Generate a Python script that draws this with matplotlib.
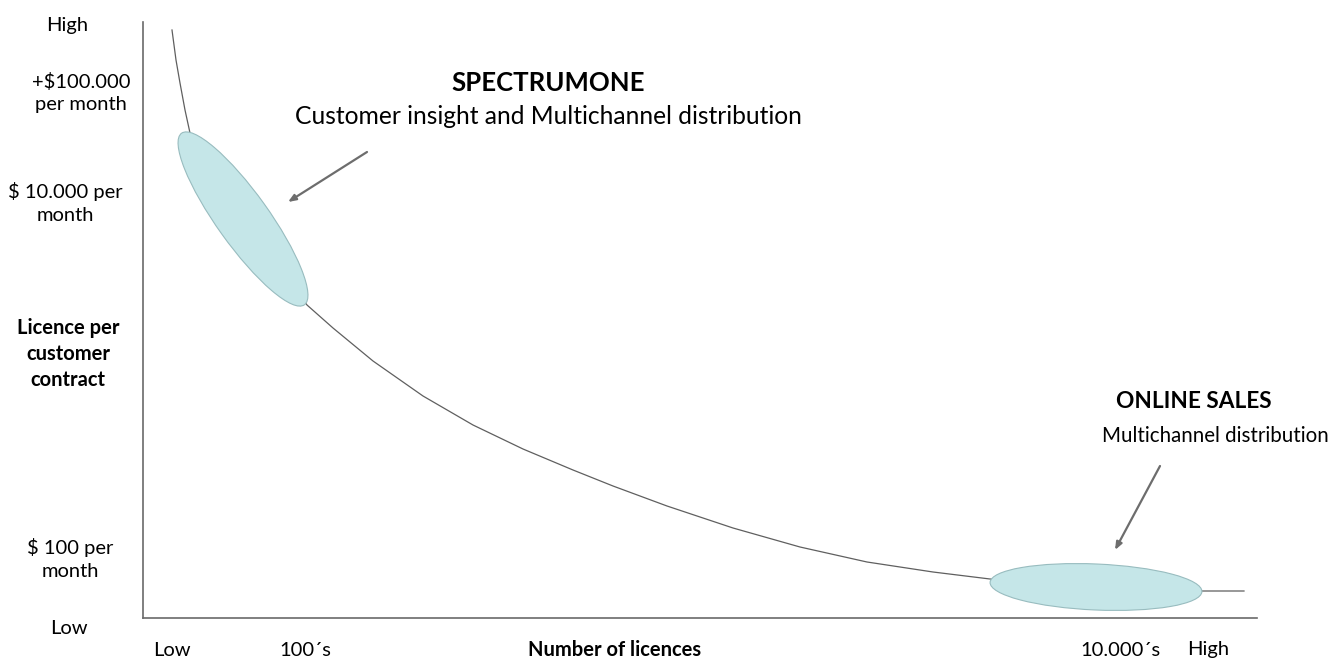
import matplotlib
matplotlib.use("Agg")
import matplotlib.pyplot as plt
from matplotlib.patches import Ellipse

W, H = 1333, 659

# price curve, in axis units (1 unit = 1 px, origin at the axis corner)
curve_x = [29, 33, 37, 42, 47, 102, 164, 190, 230, 280, 330, 380, 430, 470,
           524, 590, 657, 724, 790, 847, 957, 1059, 1101]
curve_y = [588, 558, 535, 508, 485, 398, 313, 290, 257, 222, 193, 169, 148, 132,
           112, 90, 71, 56, 46, 39, 30, 27, 27]

# segments: (centre x, centre y, length, thickness, angle)
segments = [(100, 399, 211, 52, -54.4),
            (953, 31, 212, 46, -2.5)]

# arrows: (tail x, tail y, head x, head y)
arrows = [(224, 466, 145, 416),
          (1017, 152, 972, 68)]

y_labels = ["High", "+$100.000\nper month", "$ 10.000 per\nmonth",
            "Licence per\ncustomer\ncontract", "$ 100 per\nmonth", "Low"]
y_label_pos = [25, 93, 203, 354, 559, 628]
y_label_x = [67, 81, 65, 68, 70, 69]
x_labels = ["Low", "100´s", "Number of licences", "10.000´s", "High"]
x_label_pos = [172, 305, 615, 1120, 1208]
bold_labels = {"Licence per\ncustomer\ncontract", "Number of licences"}

plt.rcParams['font.family'] = ['Lato', 'DejaVu Sans']

fig = plt.figure(figsize=(W / 100, H / 100), dpi=100)
ax = fig.add_axes([143 / W, 41 / H, 1114 / W, 596 / H])
ax.set_xlim(0, 1114)
ax.set_ylim(0, 596)
for s in ["top", "right"]:
    ax.spines[s].set_visible(False)
for s in ["left", "bottom"]:
    ax.spines[s].set_color("#6a6a6a")
    ax.spines[s].set_linewidth(1.2)
ax.set_xticks([])
ax.set_yticks([])

ax.plot(curve_x, curve_y, color="#5f5f5f", lw=0.9, zorder=1)

for cx, cy, w, h, ang in segments:
    ax.add_patch(Ellipse((cx, cy), w, h, angle=ang, facecolor="#c5e6e8",
                         edgecolor="#98bcbf", lw=0.8, zorder=2))

for x0, y0, x1, y1 in arrows:
    ax.annotate("", xy=(x1, y1), xytext=(x0, y0),
                arrowprops=dict(arrowstyle="-|>,head_length=0.45,head_width=0.18",
                                color="#6d6d6d", lw=1.6, shrinkA=0, shrinkB=0))


def ftext(px, py, s, ha="center", **kw):
    fig.text(px / W, 1 - py / H, s, ha=ha, va="center", **kw)


for lab, px, py in zip(y_labels, y_label_x, y_label_pos):
    bold = lab in bold_labels
    ftext(px, py, lab, fontsize=14.5, linespacing=1.4 if bold else 1.4,
          fontweight="bold" if bold else "normal")

for lab, px in zip(x_labels, x_label_pos):
    ftext(px, 650, lab, fontsize=14.5,
          fontweight="bold" if lab in bold_labels else "normal")

ftext(548, 83, "SPECTRUMONE", fontsize=18.5, fontweight="bold")
ftext(548, 117, "Customer insight and Multichannel distribution", fontsize=17.7)
ftext(1194, 402, "ONLINE SALES", fontsize=16.3, fontweight="bold")
ftext(1329, 436, "Multichannel distribution", ha="right", fontsize=14.8)

fig.savefig("out.png", dpi=100)
